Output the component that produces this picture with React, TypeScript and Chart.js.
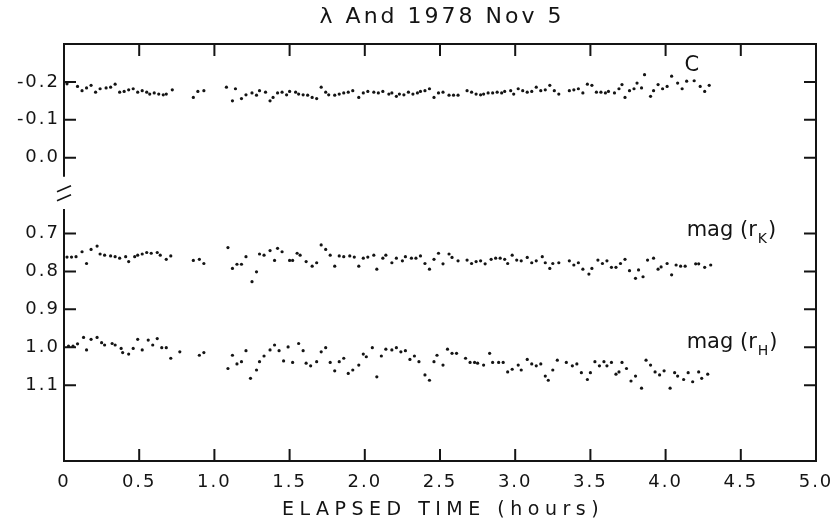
import { useEffect, useRef } from 'react';
import { Chart, registerables } from 'chart.js';

Chart.register(...registerables);

// ---- data (elapsed time in hours, magnitudes) ----
const C_HOURS = [0.02, 0.09, 0.12, 0.15, 0.18, 0.21, 0.24, 0.28, 0.31, 0.34, 0.37, 0.40, 0.43, 0.46, 0.49, 0.52, 0.55, 0.57, 0.60, 0.63, 0.66, 0.68, 0.72, 0.86, 0.89, 0.93, 1.08, 1.12, 1.14, 1.18, 1.21, 1.25, 1.28, 1.30, 1.34, 1.37, 1.39, 1.42, 1.45, 1.48, 1.50, 1.54, 1.56, 1.59, 1.62, 1.65, 1.68, 1.71, 1.74, 1.76, 1.80, 1.83, 1.86, 1.89, 1.92, 1.96, 1.99, 2.02, 2.06, 2.09, 2.12, 2.16, 2.18, 2.21, 2.23, 2.26, 2.29, 2.32, 2.35, 2.37, 2.40, 2.43, 2.46, 2.49, 2.52, 2.56, 2.59, 2.62, 2.68, 2.71, 2.74, 2.77, 2.79, 2.82, 2.85, 2.88, 2.91, 2.93, 2.97, 2.99, 3.02, 3.05, 3.08, 3.11, 3.14, 3.17, 3.20, 3.23, 3.26, 3.29, 3.36, 3.39, 3.42, 3.45, 3.48, 3.51, 3.54, 3.57, 3.60, 3.62, 3.66, 3.69, 3.71, 3.73, 3.76, 3.79, 3.81, 3.84, 3.86, 3.90, 3.92, 3.95, 3.98, 4.01, 4.04, 4.08, 4.11, 4.14, 4.19, 4.23, 4.26, 4.29];
const C_VALUES = [-0.195, -0.188, -0.177, -0.184, -0.191, -0.173, -0.182, -0.184, -0.186, -0.194, -0.173, -0.175, -0.179, -0.182, -0.173, -0.177, -0.173, -0.168, -0.171, -0.168, -0.166, -0.168, -0.179, -0.159, -0.175, -0.177, -0.186, -0.150, -0.182, -0.156, -0.166, -0.171, -0.165, -0.177, -0.173, -0.150, -0.159, -0.171, -0.173, -0.166, -0.175, -0.173, -0.168, -0.166, -0.165, -0.159, -0.156, -0.186, -0.173, -0.166, -0.165, -0.168, -0.171, -0.173, -0.177, -0.159, -0.171, -0.175, -0.173, -0.171, -0.175, -0.168, -0.171, -0.162, -0.168, -0.166, -0.173, -0.168, -0.171, -0.175, -0.177, -0.182, -0.159, -0.171, -0.173, -0.165, -0.165, -0.165, -0.177, -0.173, -0.168, -0.166, -0.168, -0.171, -0.171, -0.173, -0.171, -0.175, -0.177, -0.168, -0.182, -0.177, -0.173, -0.175, -0.186, -0.177, -0.179, -0.191, -0.177, -0.168, -0.177, -0.179, -0.182, -0.171, -0.194, -0.191, -0.173, -0.173, -0.171, -0.175, -0.171, -0.182, -0.193, -0.159, -0.177, -0.182, -0.197, -0.184, -0.219, -0.162, -0.177, -0.193, -0.182, -0.188, -0.215, -0.197, -0.182, -0.202, -0.203, -0.188, -0.175, -0.191];

const K_HOURS = [0.02, 0.05, 0.08, 0.12, 0.15, 0.18, 0.22, 0.24, 0.27, 0.31, 0.34, 0.37, 0.41, 0.43, 0.47, 0.49, 0.52, 0.55, 0.58, 0.62, 0.64, 0.68, 0.71, 0.86, 0.90, 0.93, 1.09, 1.12, 1.15, 1.18, 1.21, 1.25, 1.28, 1.30, 1.33, 1.37, 1.40, 1.42, 1.45, 1.50, 1.52, 1.55, 1.57, 1.61, 1.65, 1.68, 1.71, 1.74, 1.77, 1.80, 1.83, 1.86, 1.90, 1.93, 1.96, 1.99, 2.02, 2.06, 2.08, 2.12, 2.14, 2.18, 2.21, 2.25, 2.27, 2.31, 2.34, 2.37, 2.40, 2.43, 2.46, 2.49, 2.52, 2.56, 2.58, 2.62, 2.68, 2.71, 2.74, 2.77, 2.80, 2.84, 2.87, 2.90, 2.93, 2.95, 2.98, 3.01, 3.04, 3.08, 3.11, 3.14, 3.18, 3.20, 3.23, 3.25, 3.29, 3.36, 3.39, 3.42, 3.45, 3.49, 3.51, 3.55, 3.58, 3.61, 3.64, 3.67, 3.70, 3.73, 3.76, 3.80, 3.82, 3.85, 3.88, 3.92, 3.95, 3.97, 4.01, 4.04, 4.07, 4.10, 4.13, 4.20, 4.22, 4.26, 4.30];
const K_VALUES = [0.762, 0.762, 0.761, 0.748, 0.779, 0.742, 0.733, 0.754, 0.757, 0.759, 0.761, 0.765, 0.761, 0.774, 0.761, 0.757, 0.754, 0.750, 0.752, 0.750, 0.757, 0.768, 0.759, 0.771, 0.768, 0.779, 0.737, 0.792, 0.781, 0.781, 0.761, 0.827, 0.801, 0.754, 0.757, 0.745, 0.771, 0.739, 0.748, 0.771, 0.771, 0.752, 0.757, 0.774, 0.786, 0.777, 0.730, 0.742, 0.757, 0.786, 0.759, 0.761, 0.759, 0.762, 0.786, 0.765, 0.762, 0.757, 0.794, 0.765, 0.757, 0.777, 0.765, 0.772, 0.761, 0.765, 0.765, 0.759, 0.779, 0.794, 0.768, 0.752, 0.780, 0.754, 0.763, 0.772, 0.770, 0.779, 0.774, 0.772, 0.780, 0.768, 0.765, 0.765, 0.768, 0.779, 0.757, 0.770, 0.772, 0.763, 0.777, 0.772, 0.761, 0.777, 0.792, 0.779, 0.777, 0.772, 0.783, 0.777, 0.794, 0.807, 0.792, 0.770, 0.779, 0.772, 0.789, 0.789, 0.779, 0.768, 0.798, 0.818, 0.796, 0.814, 0.770, 0.765, 0.794, 0.788, 0.779, 0.809, 0.783, 0.786, 0.786, 0.780, 0.780, 0.789, 0.783];

const H_HOURS = [0.03, 0.06, 0.09, 0.13, 0.15, 0.18, 0.22, 0.25, 0.27, 0.32, 0.34, 0.38, 0.39, 0.43, 0.46, 0.49, 0.52, 0.56, 0.59, 0.62, 0.65, 0.68, 0.71, 0.77, 0.90, 0.93, 1.09, 1.12, 1.15, 1.18, 1.21, 1.24, 1.28, 1.30, 1.33, 1.37, 1.40, 1.43, 1.46, 1.49, 1.52, 1.56, 1.59, 1.61, 1.64, 1.68, 1.71, 1.74, 1.77, 1.80, 1.83, 1.86, 1.89, 1.92, 1.96, 1.99, 2.01, 2.05, 2.08, 2.11, 2.14, 2.18, 2.21, 2.24, 2.27, 2.30, 2.33, 2.36, 2.40, 2.43, 2.46, 2.48, 2.52, 2.55, 2.58, 2.61, 2.67, 2.70, 2.73, 2.75, 2.79, 2.83, 2.85, 2.89, 2.92, 2.95, 2.98, 3.02, 3.04, 3.08, 3.11, 3.14, 3.17, 3.20, 3.22, 3.25, 3.28, 3.34, 3.38, 3.41, 3.44, 3.48, 3.50, 3.53, 3.56, 3.59, 3.61, 3.64, 3.67, 3.69, 3.71, 3.74, 3.77, 3.80, 3.84, 3.87, 3.90, 3.93, 3.96, 3.99, 4.03, 4.06, 4.08, 4.12, 4.15, 4.18, 4.22, 4.24, 4.28];
const H_VALUES = [0.997, 0.997, 0.991, 0.974, 1.007, 0.979, 0.974, 0.988, 0.994, 0.990, 0.994, 1.003, 1.014, 1.018, 1.003, 0.979, 1.007, 0.981, 0.994, 0.977, 1.001, 1.001, 1.029, 1.012, 1.021, 1.014, 1.056, 1.021, 1.044, 1.038, 1.009, 1.082, 1.060, 1.038, 1.023, 1.007, 0.994, 1.009, 1.036, 0.999, 1.040, 0.990, 1.009, 1.042, 1.049, 1.038, 1.012, 1.001, 1.040, 1.062, 1.038, 1.029, 1.069, 1.060, 1.047, 1.018, 1.025, 1.001, 1.078, 1.023, 1.005, 1.007, 1.001, 1.012, 1.009, 1.032, 1.023, 1.038, 1.073, 1.087, 1.038, 1.021, 1.047, 1.005, 1.016, 1.016, 1.029, 1.040, 1.040, 1.042, 1.047, 1.016, 1.040, 1.040, 1.040, 1.065, 1.058, 1.047, 1.060, 1.032, 1.044, 1.049, 1.044, 1.076, 1.087, 1.060, 1.034, 1.040, 1.049, 1.044, 1.067, 1.085, 1.067, 1.038, 1.049, 1.038, 1.049, 1.040, 1.071, 1.065, 1.040, 1.056, 1.089, 1.076, 1.108, 1.034, 1.047, 1.065, 1.073, 1.062, 1.108, 1.067, 1.076, 1.085, 1.067, 1.091, 1.065, 1.082, 1.071];

const Y_TICKS_TOP = [-0.2, -0.1, 0.0];
const Y_TICKS_LOW = [0.7, 0.8, 0.9, 1.0, 1.1];
const BREAK_SHIFT = 0.5; // lower panel (0.7–1.1) drawn 0.5 mag higher on the common axis
const X_MIN = 0;
const X_MAX = 5;
const X_STEP = 0.5;

const TITLE = 'λ And 1978 Nov 5';
const X_TITLE = 'ELAPSED TIME (hours)';
const LABELS = [
  { text: 'C', sub: '', h: 4.175, v: -0.242, base: 'middle' },
  { text: 'mag (r', sub: 'K', close: ')', h: 4.14, v: 0.707, lower: true, base: 'alphabetic' },
  { text: 'mag (r', sub: 'H', close: ')', h: 4.14, v: 1.002, lower: true, base: 'alphabetic' },
];

const FONT = '"DejaVu Sans", "Liberation Sans", sans-serif';
const INK = '#141414';

const toPoints = (hours: number[], vals: number[], shift: number) =>
  hours.map((h, i) => ({ x: h, y: vals[i] - shift }));

const tickAxisValues = [...Y_TICKS_TOP, ...Y_TICKS_LOW.map((v) => +(v - BREAK_SHIFT).toFixed(3))];

const spacingPlugin = {
  id: 'spacing',
  beforeDraw(chart: any) {
    (chart.ctx as any).letterSpacing = '2px';
  },
};

const framePlugin = {
  id: 'frame',
  afterDraw(chart: any) {
    const { ctx, chartArea: a, scales } = chart;
    const xs = scales.x;
    const ys = scales.y;
    ctx.save();
    (ctx as any).letterSpacing = '0px';
    ctx.strokeStyle = INK;
    ctx.lineWidth = 2;
    ctx.beginPath();
    ctx.moveTo(a.left - 1, a.top);
    ctx.lineTo(a.right, a.top);
    ctx.lineTo(a.right, a.bottom);
    ctx.lineTo(a.left - 1, a.bottom);
    ctx.stroke();

    const breakTop = ys.getPixelForValue(0.05);
    const breakBot = ys.getPixelForValue(0.135);
    ctx.beginPath();
    ctx.moveTo(a.left, a.top);
    ctx.lineTo(a.left, breakTop);
    ctx.moveTo(a.left, breakBot);
    ctx.lineTo(a.left, a.bottom);
    ctx.stroke();

    // break mark
    const mid = (breakTop + breakBot) / 2;
    ctx.lineWidth = 1.6;
    ctx.beginPath();
    ctx.moveTo(a.left - 7, mid - 1);
    ctx.lineTo(a.left + 7, mid - 7);
    ctx.moveTo(a.left - 7, mid + 8);
    ctx.lineTo(a.left + 7, mid + 2);
    ctx.stroke();

    // inward ticks
    ctx.lineWidth = 2;
    const tl = 12;
    ctx.beginPath();
    tickAxisValues.forEach((v) => {
      const py = ys.getPixelForValue(v);
      ctx.moveTo(a.left, py);
      ctx.lineTo(a.left + tl, py);
      ctx.moveTo(a.right, py);
      ctx.lineTo(a.right - tl, py);
    });
    xs.ticks.forEach((t: any) => {
      if (t.value <= X_MIN || t.value >= X_MAX) return;
      const px = xs.getPixelForValue(t.value);
      ctx.moveTo(px, a.top);
      ctx.lineTo(px, a.top + tl);
      ctx.moveTo(px, a.bottom);
      ctx.lineTo(px, a.bottom - tl);
    });
    ctx.stroke();

    // titles
    ctx.fillStyle = INK;
    ctx.textAlign = 'center';
    ctx.textBaseline = 'middle';
    ctx.font = `22px ${FONT}`;
    (ctx as any).letterSpacing = '3px';
    ctx.fillText(TITLE, (a.left + a.right) / 2 + 2, 17);
    ctx.font = `19px ${FONT}`;
    (ctx as any).letterSpacing = '5.5px';
    ctx.fillText(X_TITLE, (a.left + a.right) / 2 + 3, 510);

    // annotations
    (ctx as any).letterSpacing = '0px';
    ctx.textAlign = 'left';
    LABELS.forEach((l) => {
      const px = xs.getPixelForValue(l.h);
      const py = ys.getPixelForValue(l.lower ? l.v - BREAK_SHIFT : l.v);
      ctx.font = `21px ${FONT}`;
      ctx.textBaseline = l.base as CanvasTextBaseline;
      if (!l.sub) {
        ctx.textAlign = 'center';
        ctx.fillText(l.text, px, py);
        ctx.textAlign = 'left';
        return;
      }
      ctx.fillText(l.text, px, py);
      let cx = px + ctx.measureText(l.text).width;
      ctx.font = `14px ${FONT}`;
      ctx.fillText(l.sub, cx + 1, py + 7);
      cx += ctx.measureText(l.sub).width + 2;
      ctx.font = `21px ${FONT}`;
      ctx.fillText(l.close || '', cx, py);
    });
    ctx.restore();
  },
};

export default function App() {
  const ref = useRef<HTMLCanvasElement | null>(null);
  useEffect(() => {
    if (!ref.current) return;
    const pointStyle = {
      showLine: false,
      pointRadius: 1.6,
      pointBorderWidth: 0,
      pointBackgroundColor: INK,
      pointBorderColor: INK,
    };
    const chart = new Chart(ref.current, {
      type: 'scatter',
      data: {
        datasets: [
          { label: 'C', data: toPoints(C_HOURS, C_VALUES, 0), ...pointStyle },
          { label: 'mag (rK)', data: toPoints(K_HOURS, K_VALUES, BREAK_SHIFT), ...pointStyle },
          { label: 'mag (rH)', data: toPoints(H_HOURS, H_VALUES, BREAK_SHIFT), ...pointStyle },
        ],
      },
      options: {
        animation: false,
        responsive: true,
        maintainAspectRatio: false,
        layout: { padding: { top: 44, right: 19, left: 0, bottom: 0 } },
        plugins: { legend: { display: false }, tooltip: { enabled: false }, title: { display: false } },
        scales: {
          x: {
            type: 'linear',
            min: X_MIN,
            max: X_MAX,
            grid: { display: false, drawTicks: false },
            border: { display: false },
            ticks: {
              stepSize: X_STEP,
              autoSkip: false,
              maxRotation: 0,
              padding: 11,
              color: INK,
              font: { family: FONT, size: 18 },
              callback: (v: any) => (Number(v) === 0 ? '0' : Number(v).toFixed(1)),
            },
            afterFit: (s: any) => {
              s.height = 63;
              s.paddingLeft = 0;
              s.paddingRight = 0;
            },
          },
          y: {
            type: 'linear',
            reverse: true,
            min: -0.3,
            max: 0.8,
            grid: { display: false, drawTicks: false },
            border: { display: false },
            ticks: {
              padding: 4,
              color: INK,
              font: { family: FONT, size: 18 },
              callback: (v: any) => {
                const n = Number(v);
                return (n > 0.05 ? n + BREAK_SHIFT : n).toFixed(1);
              },
            },
            afterBuildTicks: (s: any) => {
              s.ticks = tickAxisValues.map((value) => ({ value }));
            },
            afterFit: (s: any) => {
              s.width = 64;
              s.paddingTop = 0;
              s.paddingBottom = 0;
            },
          },
        },
      },
      plugins: [spacingPlugin, framePlugin],
    });
    return () => chart.destroy();
  }, []);
  return (
    <div style={{ position: 'fixed', left: 0, top: 0, width: 835, height: 524, background: '#fff' }}>
      <canvas ref={ref} />
    </div>
  );
}
